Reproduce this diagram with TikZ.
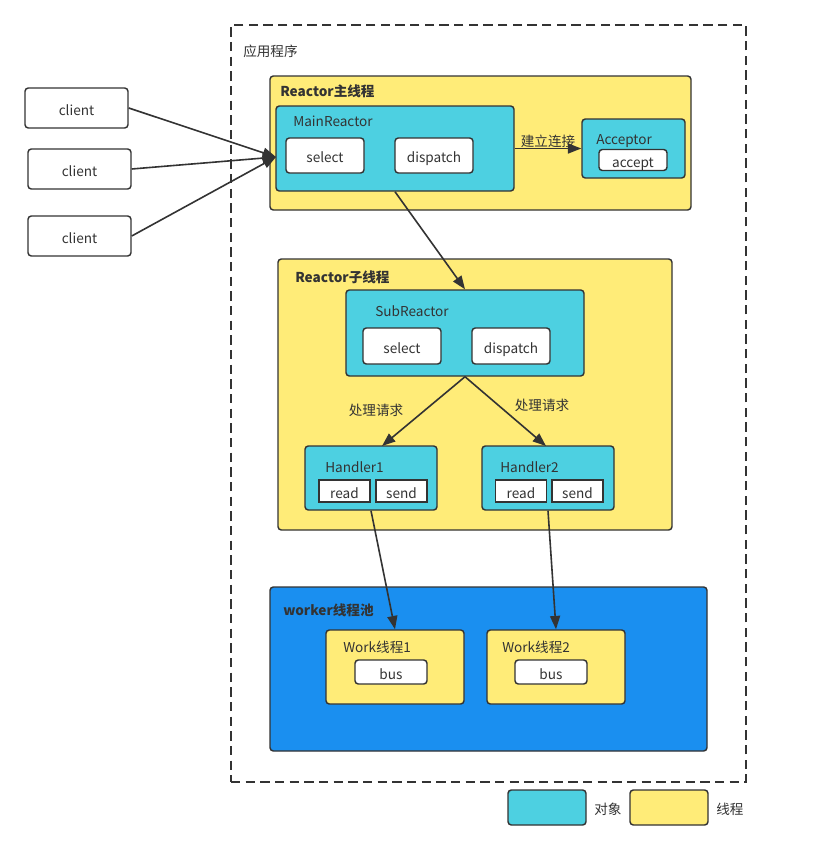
\documentclass[tikz,border=0pt]{standalone}
\usepackage{fontspec}
\setmainfont{Noto Sans CJK SC}
\usetikzlibrary{arrows.meta}
\definecolor{cy}{HTML}{4DD0E1}
\definecolor{yl}{HTML}{FFEC78}
\definecolor{bl}{HTML}{1A8FF0}
\definecolor{ln}{HTML}{333333}
\begin{document}
\begin{tikzpicture}[x=0.75pt,y=-0.75pt,
  every node/.style={font=\fontsize{10.2}{12}\selectfont, text=ln, text height=10.5pt, text depth=0pt},
  box/.style={draw=ln, line width=1.1pt, rounded corners=2.5pt, inner sep=0pt},
  cbox/.style={box, fill=cy},
  ybox/.style={box, fill=yl},
  wbox/.style={box, fill=white},
  lbl/.style={anchor=west, inner sep=0pt, yshift=1.5pt},
  blbl/.style={lbl, font=\fontsize{10.2}{12}\selectfont\bfseries},
  arr/.style={draw=ln, line width=1.2pt, -{Triangle[length=10pt,width=7.5pt]}},
  sz/.style 2 args={minimum width=#1*0.75pt, minimum height=#2*0.75pt}]
\useasboundingbox (0,0) rectangle (813,853);
\fill[white] (0,0) rectangle (813,853);
% outer dashed frame
\node[draw=ln, line width=1.1pt, dash pattern=on 7pt off 4pt, sz={515}{757}, inner sep=0pt] (app) at (488.5,403.5) {};
\node[lbl] (appl) at (243,51) {应用程序};
% clients
\node[wbox, sz={103}{40}] (c1) at (76.5,108) {client};
\node[wbox, sz={103}{40}] (c2) at (79.5,169) {client};
\node[wbox, sz={103}{40}] (c3) at (79.5,236) {client};
% main thread
\node[ybox, sz={421}{134}] (mt) at (480.5,143) {};
\node[blbl] (mtl) at (280,91) {Reactor主线程};
\node[cbox, sz={238}{85}] (mr) at (395,148.5) {};
\node[lbl] (mrl) at (293,121) {MainReactor};
\node[wbox, sz={78}{35}] (sel1) at (325,155.5) {select};
\node[wbox, sz={78}{35}] (dis1) at (434,155.5) {dispatch};
\node[cbox, sz={103}{59}] (acc) at (633.5,148.5) {};
\node[lbl] (accl) at (596,139) {Acceptor};
\node[wbox, sz={68}{21}] (acp) at (633,160) {accept};
\coordinate (mrin) at (276,157);
% sub thread
\node[ybox, sz={394}{271}] (st) at (475,394.5) {};
\node[blbl] (stl) at (295,277) {Reactor子线程};
\node[cbox, sz={238}{86}] (sr) at (465,333) {};
\node[lbl] (srl) at (375,311) {SubReactor};
\node[wbox, sz={78}{36}] (sel2) at (402,346) {select};
\node[wbox, sz={78}{36}] (dis2) at (511,346) {dispatch};
\node[cbox, sz={132}{64}] (h1) at (371,478) {};
\node[lbl] (h1l) at (325,467) {Handler1};
\node[wbox, rounded corners=0pt, sz={51}{22}] (rd1) at (344.5,491) {read};
\node[wbox, rounded corners=0pt, sz={51}{22}] (sd1) at (401.5,491) {send};
\node[cbox, sz={132}{64}] (h2) at (548,478) {};
\node[lbl] (h2l) at (500,467) {Handler2};
\node[wbox, rounded corners=0pt, sz={51}{22}] (rd2) at (521,491) {read};
\node[wbox, rounded corners=0pt, sz={51}{22}] (sd2) at (577.5,491) {send};
\coordinate (h1in) at (382,446);
\coordinate (h2in) at (546,446);
% worker pool
\node[box, fill=bl, sz={437}{164}] (pool) at (488.5,669) {};
\node[blbl] (pooll) at (283,610) {worker线程池};
\node[ybox, sz={138}{74}] (w1) at (395,667) {};
\node[lbl] (w1l) at (343,647) {Work线程1};
\node[wbox, sz={72}{24}] (bus1) at (391,672) {bus};
\node[ybox, sz={138}{74}] (w2) at (556,667) {};
\node[lbl] (w2l) at (502,647) {Work线程2};
\node[wbox, sz={72}{24}] (bus2) at (551,672) {bus};
% legend
\node[cbox, sz={78}{35}] (lc) at (547,807.5) {};
\node[lbl] (lcl) at (594,809) {对象};
\node[ybox, sz={78}{35}] (ly) at (669,807.5) {};
\node[lbl] (lyl) at (716,809) {线程};
% connectors
\draw[arr] (c1.east) -- (mrin);
\draw[arr] (c2.east) -- (mrin);
\draw[arr] (c3.east) -- (mrin);
\draw[arr] (mr.east |- acc.west) -- node[above=0pt, inner sep=1pt] (l1) {建立连接} (acc.west);
\draw[arr] (mr.south) -- (sr.north);
\draw[arr] (sr.south) -- (h1in);
\draw[arr] (sr.south) -- (h2in);
\node (l2) at (376,408.5) {处理请求};
\node (l3) at (542,403.5) {处理请求};
\draw[arr] (h1.south) -- (w1.north);
\draw[arr] (h2.south) -- (w2.north);
\end{tikzpicture}
\end{document}
